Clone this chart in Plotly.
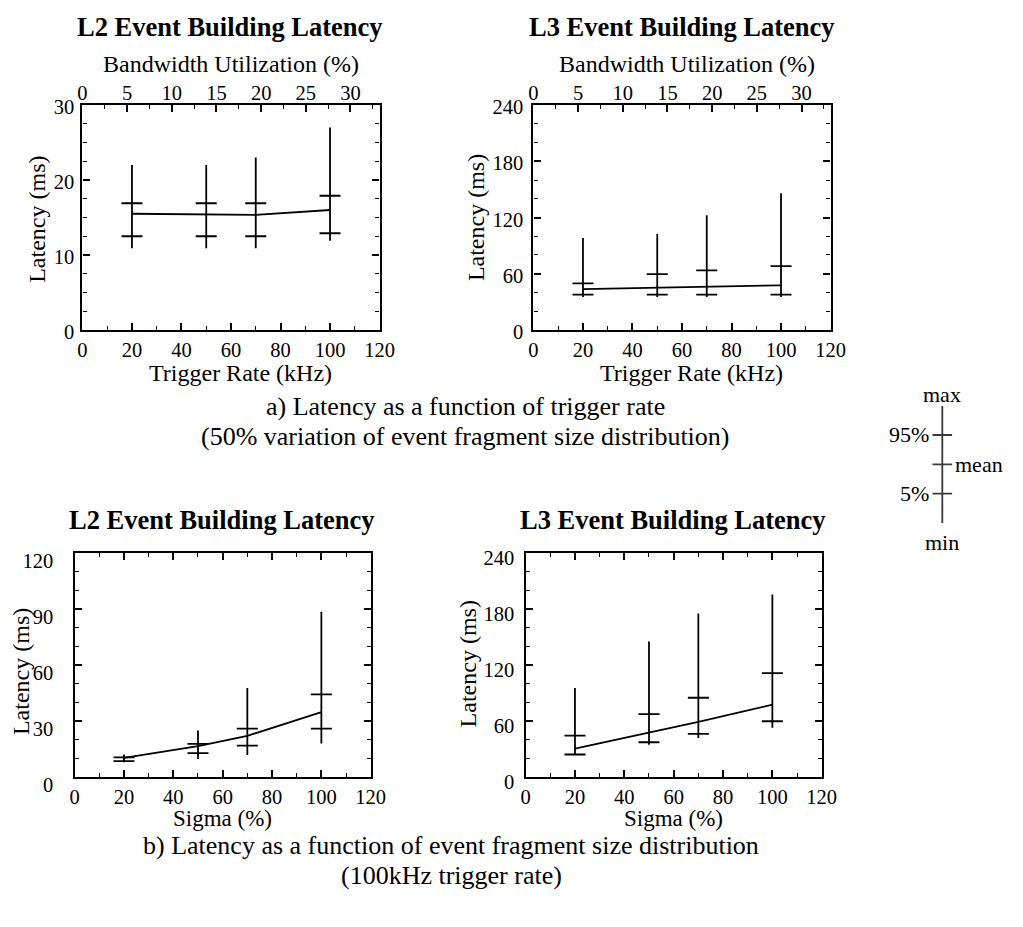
import plotly.graph_objects as go

FONT = "Liberation Serif"
W, H = 1023, 927

# ---- data ---------------------------------------------------------------
trigger_rate = [20, 50, 70, 100]   # kHz
sigma = [20, 50, 70, 100]          # % spread of fragment size

# L2 latency (ms) vs trigger rate
l2_rate_min = [10.9, 10.9, 10.9, 11.9]
l2_rate_p5 = [12.5, 12.5, 12.5, 12.9]
l2_rate_mean = [15.5, 15.4, 15.35, 16.0]
l2_rate_p95 = [16.9, 16.9, 16.9, 17.9]
l2_rate_max = [22.0, 22.0, 23.0, 27.0]

# L3 latency (ms) vs trigger rate
l3_rate_min = [35.3, 35.3, 35.3, 35.3]
l3_rate_p5 = [37.7, 37.7, 37.7, 37.7]
l3_rate_mean = [43.6, 45.0, 46.7, 47.7]
l3_rate_p95 = [49.8, 59.5, 63.6, 68.1]
l3_rate_max = [98.2, 102.4, 122.4, 145.9]

# L2 latency (ms) vs sigma
l2_sig_min = [8.0, 9.7, 11.8, 18.0]
l2_sig_p5 = [8.5, 12.8, 16.9, 25.9]
l2_sig_mean = [10.3, 16.6, 22.1, 34.8]
l2_sig_p95 = [10.5, 17.8, 25.9, 44.3]
l2_sig_max = [12.1, 24.9, 47.7, 88.5]

# L3 latency (ms) vs sigma
l3_sig_min = [24.2, 34.6, 41.8, 52.9]
l3_sig_p5 = [24.2, 37.3, 46.3, 59.8]
l3_sig_mean = [30.4, 47.7, 59.1, 77.5]
l3_sig_p95 = [44.3, 67.4, 85.0, 111.4]
l3_sig_max = [95.4, 145.2, 175.3, 195.7]

# explanatory key: one glyph with five stacked levels
key_labels = ["min", "5%", "mean", "95%", "max"]
key_values = [0, 1, 2, 3, 4]

# bandwidth utilisation (%) corresponding to the right end (120 kHz) of the rate axis
bw_at_120khz = 33.25

# ---- layout helpers -----------------------------------------------------
# plot-area boxes in pixels: left, right, top, bottom
boxes = {
    1: (79, 382, 99, 331),
    2: (539, 842, 99, 331),
    3: (71, 373, 561, 792),
    4: (531, 833, 561, 792),
}
# latency tick labels: vertical nudge (px, positive = up) and gap from the axis
ylabel_shift = {1: 2, 2: 2, 3: 8, 4: 5}
ylabel_gap = {1: 2, 2: 4, 3: 15, 4: 5}


def xdom(l, r):
    return [l / W, r / W]


def ydom(t, b):
    return [1 - b / H, 1 - t / H]


def px(x):
    return x / W


def py(y):
    return 1 - y / H


BLACK = "black"
TICKFONT = dict(family=FONT, size=20.5, color=BLACK)
AXTITLE = 23
CAPTION = 26

fig = go.Figure()


def add_stats(fig, xa, ya, x, mn, p5, mean, p95, mx, color=BLACK, width=1.8, mean_tick=False):
    xs, ys = [], []
    for xi, lo, hi in zip(x, mn, mx):
        xs += [xi, xi, None]
        ys += [lo, hi, None]
    fig.add_trace(go.Scatter(x=xs, y=ys, mode="lines", xaxis=xa, yaxis=ya,
                             line=dict(color=color, width=width),
                             showlegend=False, hoverinfo="skip"))
    tx = list(x) + list(x)
    ty = list(p5) + list(p95)
    if mean_tick:
        tx += list(x)
        ty += list(mean)
    fig.add_trace(go.Scatter(x=tx, y=ty, mode="markers", xaxis=xa, yaxis=ya,
                             marker=dict(symbol="line-ew", size=15,
                                         line=dict(color=color, width=width)),
                             showlegend=False, hoverinfo="skip"))
    if not mean_tick:
        fig.add_trace(go.Scatter(x=x, y=mean, mode="lines", xaxis=xa, yaxis=ya,
                                 line=dict(color=color, width=width),
                                 showlegend=False, hoverinfo="skip"))


add_stats(fig, "x", "y", trigger_rate, l2_rate_min, l2_rate_p5, l2_rate_mean, l2_rate_p95, l2_rate_max)
add_stats(fig, "x2", "y2", trigger_rate, l3_rate_min, l3_rate_p5, l3_rate_mean, l3_rate_p95, l3_rate_max)
add_stats(fig, "x3", "y3", sigma, l2_sig_min, l2_sig_p5, l2_sig_mean, l2_sig_p95, l2_sig_max)
add_stats(fig, "x4", "y4", sigma, l3_sig_min, l3_sig_p5, l3_sig_mean, l3_sig_p95, l3_sig_max)

# key glyph
add_stats(fig, "x7", "y7", [0], [key_values[0]], [key_values[1]], [key_values[2]],
          [key_values[3]], [key_values[4]], color="#3a3a3a", width=1.8, mean_tick=True)

# invisible trace so the top utilisation axes get drawn
for xa, ya in (("x5", "y"), ("x6", "y2")):
    fig.add_trace(go.Scatter(x=[None], y=[None], xaxis=xa, yaxis=ya,
                             showlegend=False, hoverinfo="skip"))


def base_axis(**kw):
    d = dict(showline=True, linewidth=2.4, linecolor=BLACK, ticks="inside",
             ticklen=7, tickwidth=1.6, tickcolor=BLACK, tickfont=TICKFONT,
             showgrid=False, zeroline=False, fixedrange=True)
    d.update(kw)
    return d


def minor(dt):
    return dict(dtick=dt, ticks="inside", ticklen=4, tickwidth=1.4,
                tickcolor=BLACK, showgrid=False)


lay = {}
for i, (l, r, t, b) in boxes.items():
    sfx = "" if i == 1 else str(i)
    top_panel = i in (1, 2)
    lay["xaxis" + sfx] = base_axis(
        domain=xdom(l, r), anchor="y" + sfx, range=[0, 120], dtick=20,
        minor=minor(10), mirror=True if top_panel else "ticks")
    if i == 1:
        yr, ydt, ymin = [0, 30], 10, 2.5
    elif i == 3:
        yr, ydt, ymin = [0, 120], 30, 10
    else:
        yr, ydt, ymin = [0, 240], 60, 20
    lay["yaxis" + sfx] = base_axis(
        domain=ydom(t, b), anchor="x" + sfx, range=yr, dtick=ydt,
        minor=minor(ymin), mirror="ticks", ticklabelshift=ylabel_shift[i],
        ticklabelstandoff=ylabel_gap[i])

# top utilisation axes for the rate panels
for name, over in (("xaxis5", "x"), ("xaxis6", "x2")):
    lay[name] = base_axis(
        overlaying=over, anchor="y" if over == "x" else "y2", side="top",
        range=[0, bw_at_120khz], dtick=5, minor=minor(2.5), showline=False)

# key axes
lay["xaxis7"] = dict(domain=xdom(946, 966), range=[-1, 1], visible=False,
                     anchor="y7", fixedrange=True)
lay["yaxis7"] = dict(domain=ydom(409, 530), range=[0, 4], visible=False,
                     anchor="x7", fixedrange=True)

ann = []


def text(x, y, s, size, bold=False, angle=0, **kw):
    d = dict(x=px(x), y=py(y), xref="paper", yref="paper",
             text=f"<b>{s}</b>" if bold else s, showarrow=False,
             font=dict(family=FONT, size=size, color=BLACK),
             textangle=angle, xanchor="center", yanchor="middle")
    d.update(kw)
    ann.append(d)


# panel titles
text(229.5, 19, "L2 Event Building Latency", 26.5, bold=True)
text(690, 19, "L3 Event Building Latency", 26.5, bold=True)
text(221.7, 527, "L2 Event Building Latency", 26.5, bold=True)
text(681.7, 527, "L3 Event Building Latency", 26.5, bold=True)

# axis titles
text(231, 57, "Bandwidth Utilization (%)", AXTITLE + 1)
text(696, 57, "Bandwidth Utilization (%)", AXTITLE + 1)
text(240, 375, "Trigger Rate (kHz)", AXTITLE + 1)
text(700, 375, "Trigger Rate (kHz)", AXTITLE + 1)
text(33, 217, "Latency (ms)", AXTITLE + 1, angle=-90)
text(480, 215, "Latency (ms)", AXTITLE + 1, angle=-90)
text(222, 835, "Sigma (%)", AXTITLE)
text(682, 835, "Sigma (%)", AXTITLE)
text(17, 683, "Latency (ms)", AXTITLE + 1, angle=-90)
text(472, 675, "Latency (ms)", AXTITLE + 1, angle=-90)

# captions
text(470, 410, "a) Latency as a function of trigger rate", CAPTION)
text(470, 441, "(50% variation of event fragment size distribution)", CAPTION)
text(455, 863, "b) Latency as a function of event fragment size distribution", CAPTION)
text(455, 893, "(100kHz trigger rate)", CAPTION)

# key labels
kfont = dict(family=FONT, size=22, color=BLACK)
key_pos = {
    "max": dict(x=0, y=4, xanchor="center", yanchor="bottom", yshift=-3),
    "min": dict(x=0, y=0, xanchor="center", yanchor="top", yshift=-5),
    "95%": dict(x=0, y=3, xanchor="right", yanchor="middle", xshift=-11),
    "5%": dict(x=0, y=1, xanchor="right", yanchor="middle", xshift=-11),
    "mean": dict(x=0, y=2, xanchor="left", yanchor="middle", xshift=11),
}
for lab in key_labels:
    d = dict(xref="x7", yref="y7", text=lab, showarrow=False, font=kfont)
    d.update(key_pos[lab])
    ann.append(d)

fig.update_layout(
    width=W, height=H, autosize=False,
    margin=dict(l=0, r=0, t=0, b=0),
    paper_bgcolor="white", plot_bgcolor="white",
    font=dict(family=FONT, color=BLACK),
    showlegend=False,
    annotations=ann,
    **lay,
)

fig.write_html("out.html")
